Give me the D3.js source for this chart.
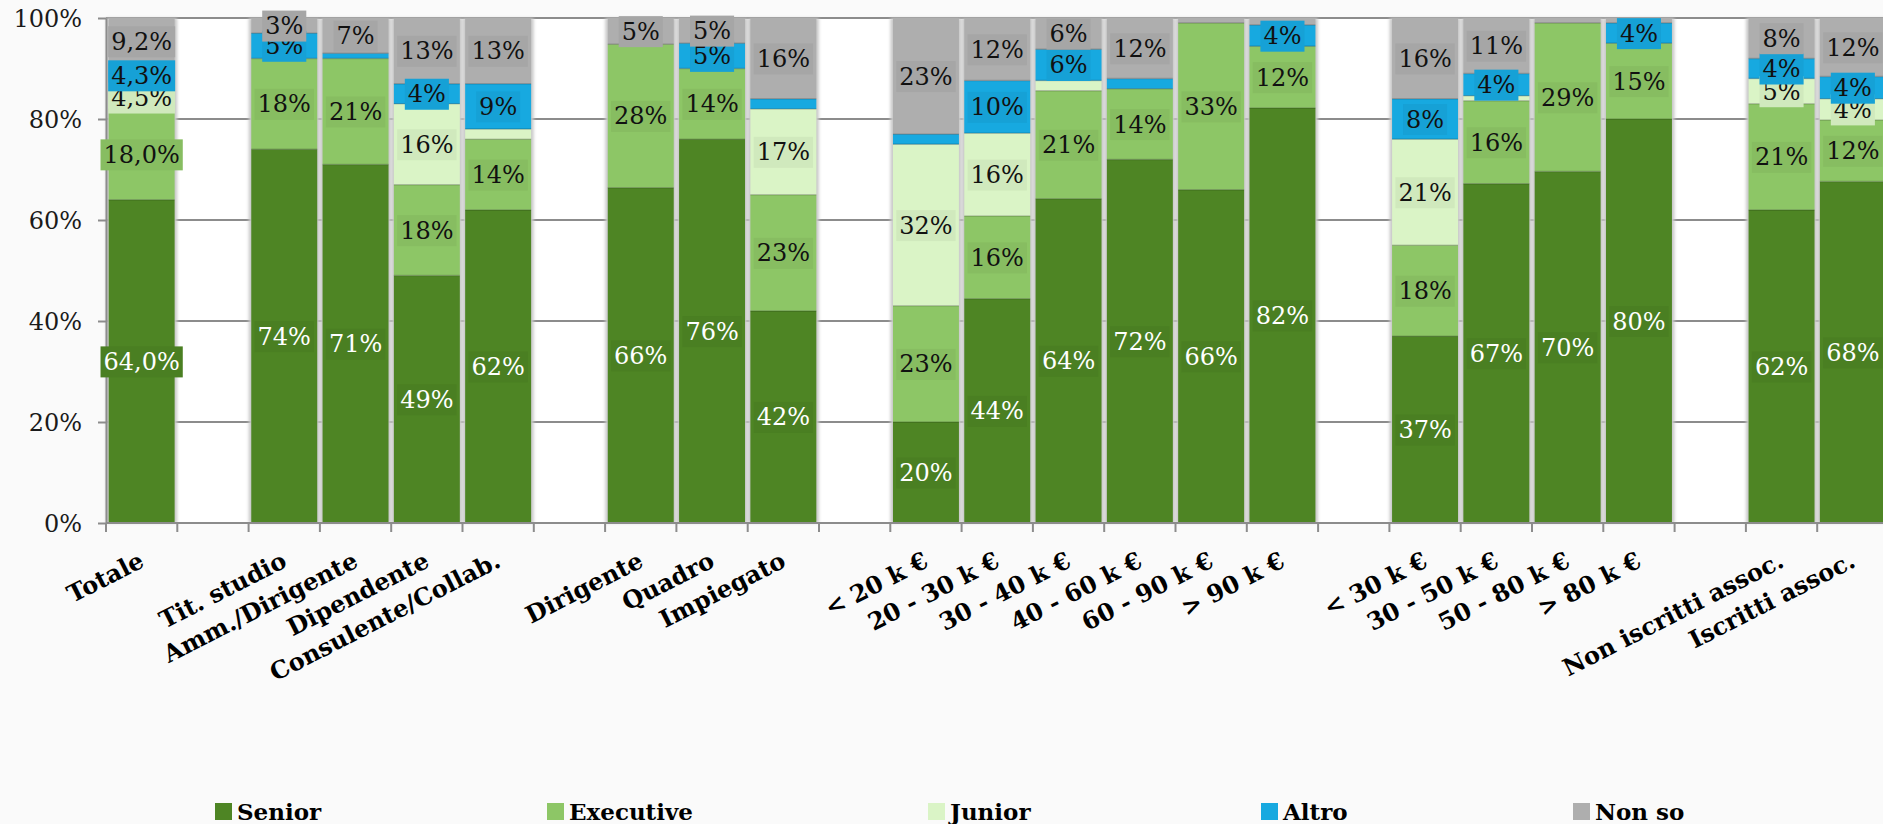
<!DOCTYPE html>
<html><head><meta charset="utf-8">
<script src="https://cdn.jsdelivr.net/npm/d3@7/dist/d3.min.js"></script>
<style>
body{margin:0;background:#fafafa;}
svg{display:block;}
</style></head>
<body><svg id="chart" width="1883" height="824"></svg>
<script>
// ---- data (empty strings / nulls are gaps between groups) ----
const categories = ["Totale","",
  "Tit. studio","Amm./Dirigente","Dipendente","Consulente/Collab.","",
  "Dirigente","Quadro","Impiegato","",
  "< 20 k €","20 - 30 k €","30 - 40 k €","40 - 60 k €","60 - 90 k €","> 90 k €","",
  "< 30 k €","30 - 50 k €","50 - 80 k €","> 80 k €","",
  "Non iscritti assoc.","Iscritti assoc."];
const senior    = [64.0,null, 74,71,49,62,null, 66.4,76,42,null, 20,44.4,64.2,72,66,82.2,null, 37,67.2,69.6,80,null, 62,67.6];
const executive = [18.0,null, 18,21,18,14,null, 28.4,14,23,null, 23,16.4,21.4,14,33,12.2,null, 18,16.4,29.4,15,null, 21,12.2];
const junior    = [4.5,null,  0,0,16,2,null,     0,0,17,null,     32,16.4,2,0,0,0,null,       21,1,0,0,null,     5,4.2];
const altro     = [4.3,null,  5,1,4,9,null,      0,5,2,null,      2,10.4,6.2,2,0,4.2,null,    8,4.4,0,4,null,    4,4.4];
const nonSo     = [9.2,null,  3,7,13,13,null,    5.2,5,16,null,   23,12.4,6.2,12,1,1.4,null,  16,11,1,1,null,    8,11.6];
const labelDecimals = [1,0, 0,0,0,0,0, 0,0,0,0, 0,0,0,0,0,0,0, 0,0,0,0,0, 0,0];
const seriesNames = ["Senior","Executive","Junior","Altro","Non so"];
const seriesColors = ["#4e8524","#8dc666","#daf4c6","#17a9e0","#aeaeae"];
const yTicks = [0,20,40,60,80,100];

// ---- layout ----
const svg = d3.select("#chart");
const plotLeft = 106, slotW = 71.3, plotTop = 18, plotBottom = 523, W = 1883;
const x = d3.scaleBand().domain(d3.range(categories.length))
  .range([plotLeft, plotLeft + categories.length*slotW]).paddingInner(0.075).paddingOuter(0.0375);
const y = d3.scaleLinear().domain([0,100]).range([plotBottom, plotTop]);
const color = d3.scaleOrdinal().domain(seriesNames).range(seriesColors);

const rows = categories.map((c,i)=>({i, c, Senior:senior[i]||0, Executive:executive[i]||0,
  Junior:junior[i]||0, Altro:altro[i]||0, "Non so":nonSo[i]||0, gap: senior[i]==null}));
const stack = d3.stack().keys(seriesNames)(rows);

const defs = svg.append("defs");
defs.append("filter").attr("id","blur").attr("x","-20%").attr("width","140%")
  .append("feGaussianBlur").attr("stdDeviation",1.6);

// plot background
svg.append("rect").attr("x",plotLeft).attr("y",plotTop).attr("width",W-plotLeft).attr("height",plotBottom-plotTop).attr("fill","#ffffff");

// gridlines
svg.append("g").selectAll("line").data(yTicks.filter(d=>d>0)).join("line")
  .attr("x1",plotLeft).attr("x2",W).attr("y1",d=>y(d)).attr("y2",d=>y(d))
  .attr("stroke","#8c8c8c").attr("stroke-width",2);

// bar shadows
svg.append("g").selectAll("rect").data(rows.filter(r=>!r.gap)).join("rect")
  .attr("x",d=>x(d.i)-2.5).attr("width",x.bandwidth()+5)
  .attr("y",y(100)).attr("height",y(0)-y(100))
  .attr("fill","#c8c8c8").attr("filter","url(#blur)");

// segments
const segG = svg.append("g");
stack.forEach(s=>{
  segG.append("g").selectAll("rect").data(s.filter(d=>!d.data.gap && d[1]-d[0]>0)).join("rect")
    .attr("x",d=>x(d.data.i)).attr("width",x.bandwidth())
    .attr("y",d=>y(d[1])).attr("height",d=>y(d[0])-y(d[1]))
    .attr("fill",color(s.key));
  segG.append("g").selectAll("line").data(s.filter(d=>!d.data.gap && d[1]-d[0]>0 && d[0]>0)).join("line")
    .attr("x1",d=>x(d.data.i)).attr("x2",d=>x(d.data.i)+x.bandwidth())
    .attr("y1",d=>y(d[0])).attr("y2",d=>y(d[0]))
    .attr("stroke","#000").attr("stroke-opacity",0.18).attr("stroke-width",1.5);
});

// axes
const yAxis = svg.append("g").attr("transform",`translate(${plotLeft},0)`)
  .call(d3.axisLeft(y).tickValues(yTicks).tickFormat(d=>d+"%").tickSize(8).tickSizeOuter(0));
yAxis.select(".domain").attr("stroke","#8c8c8c").attr("stroke-width",2);
yAxis.selectAll(".tick line").attr("stroke","#8c8c8c").attr("stroke-width",2);
yAxis.selectAll(".tick text").attr("x",-24).attr("font-family","'DejaVu Serif'").attr("font-size",24)
  .attr("fill","#1a1a1a").attr("dy","0.35em");

const xb = d3.scaleLinear().domain([0,categories.length]).range([plotLeft,plotLeft+categories.length*slotW]);
svg.append("line").attr("x1",plotLeft).attr("x2",W).attr("y1",plotBottom).attr("y2",plotBottom)
  .attr("stroke","#8c8c8c").attr("stroke-width",2);
svg.append("g").selectAll("line").data(d3.range(categories.length+1)).join("line")
  .attr("x1",d=>xb(d)).attr("x2",d=>xb(d)).attr("y1",plotBottom).attr("y2",plotBottom+9)
  .attr("stroke","#8c8c8c").attr("stroke-width",2);

const xAxis = svg.append("g").attr("transform",`translate(0,${plotBottom})`)
  .call(d3.axisBottom(x).tickValues(d3.range(categories.length).filter(i=>categories[i]!==""))
    .tickFormat(i=>categories[i]).tickSize(0).tickSizeOuter(0));
xAxis.select(".domain").remove();
xAxis.selectAll(".tick text")
  .attr("font-family","'DejaVu Serif'").attr("font-weight","bold").attr("font-size",24)
  .attr("fill","#000").attr("text-anchor","end").attr("dy",null).attr("y",0)
  .attr("transform","translate(4,43) rotate(-27)");

// data labels
const labG = svg.append("g");
stack.forEach((s,k)=>{
  const data = s.filter(d=>!d.data.gap && d[1]-d[0]>=3);
  const g = labG.append("g").selectAll("g").data(data).join("g")
    .attr("transform",d=>`translate(${x(d.data.i)+x.bandwidth()/2},${(y(d[0])+y(d[1]))/2})`);
  const bgc = d3.color(seriesColors[k]).darker(0.13).formatHex();
  g.append("rect").attr("fill",bgc);
  const txt = g.append("text").attr("text-anchor","middle").attr("y",8.5)
    .attr("font-family","'DejaVu Serif'").attr("font-size",24)
    .attr("fill",k===0?"#ffffff":"#111")
    .text(d=>{const v=d[1]-d[0];const dec=labelDecimals[d.data.i];
      return (dec? v.toFixed(dec).replace(".",",") : Math.round(v)) + "%";});
  txt.each(function(){
    const w=this.getComputedTextLength();
    d3.select(this.previousSibling).attr("x",-w/2-3).attr("width",w+6).attr("y",-15).attr("height",31);
  });
});

// legend
const legendX = [215,547,928,1261,1573];
const lg = svg.append("g").selectAll("g").data(seriesNames).join("g")
  .attr("transform",(d,i)=>`translate(${legendX[i]},803)`);
lg.append("rect").attr("width",17).attr("height",17).attr("fill",d=>color(d));
lg.append("text").attr("x",22).attr("y",17).attr("font-family","'DejaVu Serif'")
  .attr("font-weight","bold").attr("font-size",23).attr("fill","#000").text(d=>d);
</script></body></html>
